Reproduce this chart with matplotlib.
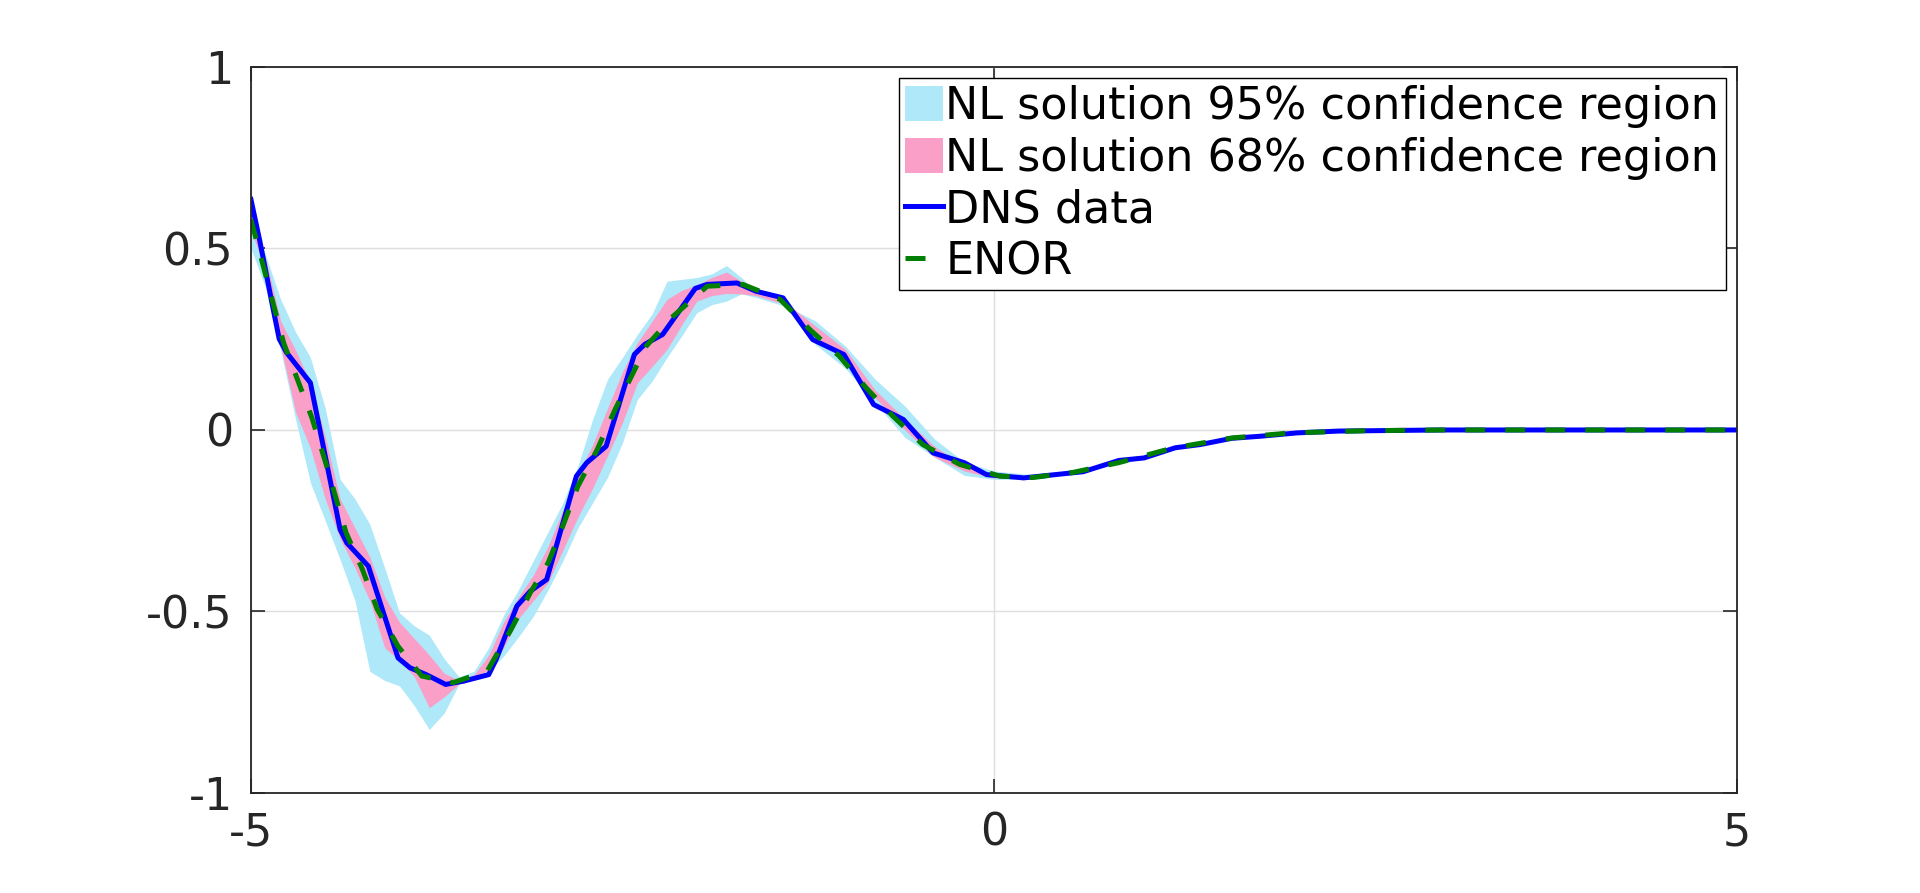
import matplotlib
matplotlib.use("Agg")
import matplotlib.pyplot as plt
import numpy as np

# DNS data (blue solid)
x_dns = [-5.0, -4.94, -4.85, -4.81, -4.76, -4.60, -4.40, -4.355, -4.21, -4.01, -3.93, -3.82,
         -3.69, -3.57, -3.40, -3.35, -3.21, -3.12, -3.01, -2.81, -2.74, -2.61, -2.42, -2.35,
         -2.23, -2.01, -1.93, -1.73, -1.60, -1.42, -1.22, -1.01, -0.81, -0.61, -0.41, -0.20,
         -0.05, 0.20, 0.60, 0.84, 1.01, 1.22, 1.39, 1.60, 1.80, 2.04, 2.32, 3.0, 5.0]
y_dns = [0.635, 0.52, 0.332, 0.251, 0.213, 0.13, -0.274, -0.311, -0.375, -0.628, -0.655, -0.674,
         -0.701, -0.692, -0.674, -0.632, -0.485, -0.444, -0.412, -0.127, -0.090, -0.045, 0.208, 0.236,
         0.263, 0.390, 0.401, 0.405, 0.382, 0.364, 0.249, 0.208, 0.070, 0.029, -0.063, -0.090,
         -0.123, -0.132, -0.115, -0.084, -0.077, -0.049, -0.040, -0.023, -0.017, -0.008, -0.003, 0.0, 0.0]

# ENOR (green dashed)
x_enor = [-5.0, -4.78, -4.59, -4.49, -4.36, -4.25, -4.15, -4.01, -3.85, -3.64, -3.41, -3.25,
          -3.12, -3.0, -2.91, -2.80, -2.67, -2.55, -2.34, -2.16, -1.93, -1.69, -1.44, -1.24,
          -1.04, -0.86, -0.68, -0.48, -0.23, 0.04, 0.26, 0.53, 0.84, 1.2, 1.6, 2.0, 2.5, 3.0, 5.0]
y_enor = [0.58, 0.24, 0.034, -0.10, -0.283, -0.384, -0.494, -0.596, -0.678, -0.696, -0.664, -0.55,
          -0.448, -0.366, -0.274, -0.155, -0.054, 0.056, 0.231, 0.313, 0.396, 0.401, 0.36, 0.277,
          0.203, 0.116, 0.038, -0.04, -0.095, -0.127, -0.131, -0.117, -0.09, -0.05, -0.022, -0.008,
          -0.002, 0.0, 0.0]

# confidence bands of the NL solution
x_band = [-5.0, -4.9, -4.8, -4.7, -4.6, -4.5, -4.4, -4.3, -4.2, -4.1, -4.0, -3.9, -3.8, -3.7,
          -3.6, -3.5, -3.4, -3.3, -3.2, -3.1, -3.0, -2.9, -2.8, -2.7, -2.6, -2.5, -2.4, -2.3,
          -2.2, -2.1, -2.0, -1.9, -1.8, -1.7, -1.6, -1.4, -1.2, -1.0, -0.8, -0.6, -0.4, -0.2,
          0.0, 0.3, 0.6, 1.0]
lo95 = [0.50, 0.39, 0.22, 0.03, -0.145, -0.25, -0.357, -0.47, -0.665, -0.69, -0.705, -0.76, -0.825, -0.78,
        -0.70, -0.685, -0.665, -0.623, -0.57, -0.513, -0.44, -0.36, -0.27, -0.20, -0.13, -0.035, 0.084, 0.135,
        0.20, 0.26, 0.323, 0.345, 0.355, 0.375, 0.365, 0.34, 0.235, 0.17, 0.075, -0.02, -0.075, -0.125,
        -0.136, -0.135, -0.115, -0.08]
hi95 = [0.60, 0.48, 0.36, 0.27, 0.20, 0.06, -0.136, -0.19, -0.26, -0.38, -0.504, -0.54, -0.565, -0.63,
        -0.68, -0.665, -0.60, -0.51, -0.44, -0.36, -0.28, -0.20, -0.10, 0.03, 0.14, 0.20, 0.263, 0.32,
        0.41, 0.415, 0.42, 0.43, 0.453, 0.42, 0.38, 0.341, 0.30, 0.231, 0.14, 0.066, -0.025, -0.088,
        -0.113, -0.125, -0.11, -0.074]
lo68 = [0.55, 0.44, 0.23, 0.05, -0.05, -0.19, -0.30, -0.38, -0.47, -0.60, -0.635, -0.68, -0.765, -0.735,
        -0.70, -0.685, -0.66, -0.60, -0.52, -0.47, -0.42, -0.33, -0.24, -0.16, -0.07, 0.02, 0.13, 0.175,
        0.222, 0.29, 0.355, 0.37, 0.376, 0.375, 0.37, 0.345, 0.255, 0.195, 0.09, 0.0, -0.075, -0.113,
        -0.132, -0.132, -0.113, -0.078]
hi68 = [0.60, 0.47, 0.30, 0.22, 0.13, -0.02, -0.19, -0.27, -0.35, -0.46, -0.53, -0.575, -0.62, -0.67,
        -0.69, -0.675, -0.62, -0.53, -0.46, -0.40, -0.32, -0.22, -0.125, -0.04, 0.06, 0.16, 0.24, 0.30,
        0.36, 0.385, 0.40, 0.42, 0.435, 0.41, 0.39, 0.35, 0.286, 0.222, 0.11, 0.03, -0.045, -0.10,
        -0.12, -0.128, -0.113, -0.076]

x_ticks = [-5, 0, 5]
y_ticks = [-1, -0.5, 0, 0.5, 1]
labels = ["NL solution 95% confidence region", "NL solution 68% confidence region",
          "DNS data", "ENOR"]

plt.rcParams["font.family"] = "DejaVu Sans"
fs = 32
txt = "#262626"

fig = plt.figure(figsize=(19.2, 8.93), dpi=100)
ax = fig.add_axes([0.1307, 0.112, 0.7740, 0.813])

ax.fill_between(x_band, lo95, hi95, color="#aee8f9", lw=0, label=labels[0])
ax.fill_between(x_band, lo68, hi68, color="#fa9fc8", lw=0, label=labels[1])
ax.plot(x_dns, y_dns, color="#0000ff", lw=3.6, label=labels[2])
ax.plot(x_enor, y_enor, color="#007f00", lw=3.6, ls=(0, (4, 4)), label=labels[3])

ax.set_xlim(-5, 5)
ax.set_ylim(-1, 1)
ax.set_xticks(x_ticks)
ax.set_xticklabels(["-5", "0", "5"])
ax.set_yticks(y_ticks)
ax.set_yticklabels(["-1", "-0.5", "0", "0.5", "1"])
ax.grid(True, color="#dedede", lw=1)
ax.set_axisbelow(True)
ax.tick_params(direction="in", length=10, width=1.2, top=True, right=True,
               labelsize=fs, labelcolor=txt, color=txt, pad=13)
for s in ax.spines.values():
    s.set_color(txt)
    s.set_linewidth(1.3)

leg = ax.legend(loc="upper right", fontsize=fs, frameon=True, fancybox=False,
                edgecolor="black", framealpha=1, borderaxespad=0.25,
                handlelength=0.85, handleheight=0.85, handletextpad=0.05,
                labelspacing=0.2, borderpad=0.15)
leg.get_frame().set_linewidth(1.0)

fig.savefig("out.png", dpi=100)
